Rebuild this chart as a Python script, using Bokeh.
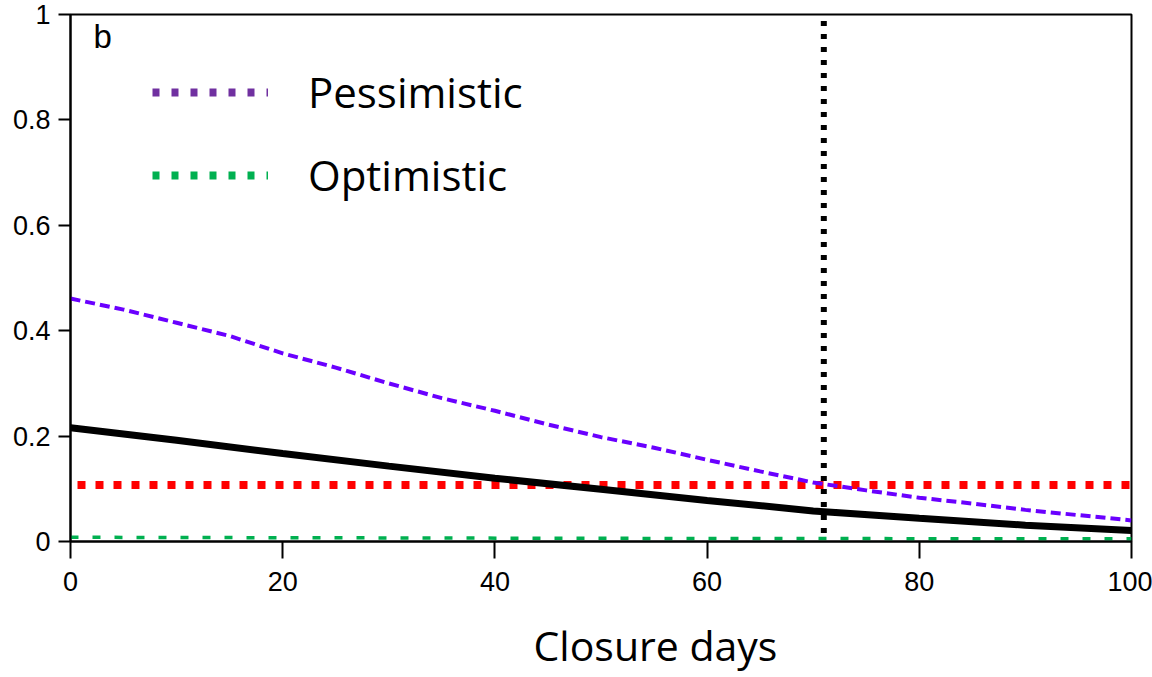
from bokeh.plotting import figure
from bokeh.models import Range1d, FixedTicker, Legend, LegendItem, Label, Title
from bokeh.embed import file_html
from bokeh.resources import INLINE

# ---- data ----
days = [0, 10, 20, 30, 40, 50, 60, 70, 80, 90, 100]
central = [0.216, 0.192, 0.167, 0.143, 0.120, 0.099, 0.078, 0.058, 0.044, 0.031, 0.021]

days_p = [0, 5, 10, 15, 20, 25, 30, 35, 40, 45, 50, 55, 60, 65, 70, 75, 80, 85, 90, 95, 100]
pessimistic = [0.461, 0.440, 0.415, 0.390, 0.357, 0.330, 0.300, 0.272, 0.248, 0.222, 0.198,
               0.178, 0.155, 0.133, 0.112, 0.097, 0.083, 0.072, 0.060, 0.050, 0.040]

days_o = [0, 50, 100]
optimistic = [0.008, 0.006, 0.005]

threshold_x = [0, 100]
threshold_y = [0.107, 0.107]

closure_day = [71, 71]
closure_span = [0.016, 1.0]

x_ticks = [0, 20, 40, 60, 80, 100]
y_ticks = [0, 0.2, 0.4, 0.6, 0.8, 1.0]
y_tick_labels = ["0", "0.2", "0.4", "0.6", "0.8", "1"]
x_title = "Closure days"

legend_names = ["Pessimistic", "Optimistic"]
legend_colors = ["#7030a0", "#00b050"]
legend_dummy_x = [-20, -10]   # off-range: only the legend key is seen
legend_dummy_y = [-1, -1]

# ---- figure ----
p = figure(width=1152, height=677, output_backend="svg", toolbar_location=None,
           x_range=Range1d(0, 100), y_range=Range1d(0, 1),
           min_border_left=70, min_border_right=21, min_border_top=14, min_border_bottom=10)
p.frame_width = 1061
p.frame_height = 527

p.grid.visible = False
p.outline_line_color = "black"
p.outline_line_width = 2
p.background_fill_color = "white"
p.border_fill_color = "white"

for ax in (p.xaxis[0], p.yaxis[0]):
    ax.axis_line_width = 2
    ax.major_tick_line_width = 2
    ax.minor_tick_line_color = None
    ax.major_tick_in = 0
    ax.major_label_text_font = "Liberation Sans"
    ax.major_label_text_font_size = "27px"
    ax.major_label_text_color = "black"

p.xaxis.ticker = FixedTicker(ticks=x_ticks)
p.xaxis.major_tick_out = 17
p.xaxis.major_label_standoff = 13

p.yaxis.ticker = FixedTicker(ticks=y_ticks)
p.yaxis.major_label_overrides = {t: l for t, l in zip(y_ticks, y_tick_labels)}
p.yaxis.major_tick_out = 12
p.yaxis.major_label_standoff = 8

# x-axis title, set off-centre as in the original
p.add_layout(Title(text=x_title, align="left", offset=463, standoff=42,
                   text_font="Open Sans", text_font_size="41px",
                   text_font_style="normal", text_color="black"), "below")

# ---- series ----
p.line(threshold_x, threshold_y, line_color="#ff0000", line_width=8, line_dash="8 10",
       line_dash_offset=-7)
p.line(days_o, optimistic, line_color="#00b050", line_width=3.5, line_dash="8 14")
p.line(days_p, pessimistic, line_color="#6a00ff", line_width=4, line_dash="10 5")
p.line(days, central, line_color="black", line_width=7)
p.line(closure_day, closure_span, line_color="black", line_width=6, line_dash="5 8")

# ---- legend (styled like the original keys) ----
items = []
for name, col in zip(legend_names, legend_colors):
    r = p.line(legend_dummy_x, legend_dummy_y, line_color=col, line_width=8, line_dash="7 12")
    items.append(LegendItem(label=name, renderers=[r]))

legend = Legend(items=items, location=(82, 338), orientation="vertical",
                glyph_width=116, glyph_height=40, label_height=40, spacing=26,
                label_standoff=40, padding=0, margin=0,
                border_line_color=None, background_fill_alpha=0,
                label_text_font="Open Sans", label_text_font_size="42px",
                label_text_color="black")
p.add_layout(legend, "center")

p.add_layout(Label(x=23, y=524, x_units="screen", y_units="screen", text="b",
                   text_font="Liberation Sans", text_font_size="33px",
                   text_baseline="top", text_align="left", text_color="black"))

open("out.html", "w").write(file_html(p, INLINE))
